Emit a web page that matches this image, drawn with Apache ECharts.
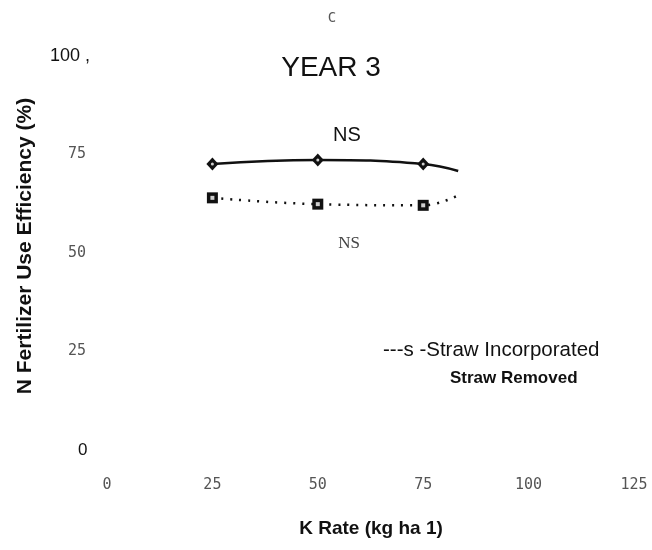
<!DOCTYPE html>
<html>
<head>
<meta charset="utf-8">
<script src="https://cdn.jsdelivr.net/npm/echarts@6/dist/echarts.min.js"></script>
<style>
html,body{margin:0;padding:0;background:#fff;}
#chart{width:652px;height:550px;}
</style>
</head>
<body>
<div id="chart"></div>
<script>
// ---- data ----
var kRates = [25, 50, 75];
var strawIncorporated = [72.6, 73.6, 72.6];
var strawRemoved = [64.0, 62.4, 62.1];
// fitted curves continue slightly past the last rate
var incorporatedCurveEnd = [83.3, 70.8];
var removedCurveEnd = [83, 64.5];
var xTicks = [0, 25, 50, 75, 100, 125];
var yTicks = [0, 25, 50, 75, 100];
var yTickText = ['0', '25', '50', '75', '100 ,'];

function buildSeries(xs, ys, end) {
  var d = xs.map(function (x, i) { return [x, ys[i]]; });
  d.push({ value: end, symbol: 'none' });
  return d;
}
function points(xs, ys) { return xs.map(function (x, i) { return [x, ys[i]]; }); }

var yStyleFor = { '0': 'zero', '25': 'mono', '50': 'mono', '75': 'mono', '100': 'big' };

var chart = echarts.init(document.getElementById('chart'));
chart.setOption({
  backgroundColor: '#fff',
  animation: false,
  grid: { left: 107, right: 18, top: 56, bottom: 100, containLabel: false },
  xAxis: {
    type: 'value', min: 0, max: 125, interval: 25,
    axisLine: { show: false }, axisTick: { show: false }, splitLine: { show: false },
    axisLabel: {
      margin: 28, color: '#555', fontFamily: 'DejaVu Sans Mono', fontSize: 15,
      formatter: function (v) { return xTicks.indexOf(v) >= 0 ? String(v) : ''; }
    }
  },
  yAxis: {
    type: 'value', min: 0, max: 100, interval: 25,
    axisLine: { show: false }, axisTick: { show: false }, splitLine: { show: false },
    axisLabel: {
      align: 'left', margin: 57,
      formatter: function (v) {
        var i = yTicks.indexOf(v);
        if (i < 0) return '';
        return '{' + yStyleFor[String(v)] + '|' + yTickText[i] + '}';
      },
      rich: {
        big: { fontFamily: 'Liberation Sans', fontSize: 18, color: '#111' },
        mono: { fontFamily: 'DejaVu Sans Mono', fontSize: 15, color: '#555', padding: [0, 0, 0, 18] },
        zero: { fontFamily: 'Liberation Sans', fontSize: 17, color: '#111', padding: [0, 0, 0, 28] }
      }
    }
  },
  series: [
    {
      type: 'line', smooth: 0.45, z: 2,
      data: buildSeries(kRates, strawIncorporated, incorporatedCurveEnd),
      symbol: 'diamond', symbolSize: [12, 13],
      lineStyle: { color: '#111', width: 2.5 },
      itemStyle: { color: '#111', borderColor: '#111', borderWidth: 0 }
    },
    {
      type: 'line', smooth: 0.45, z: 2,
      data: buildSeries(kRates, strawRemoved, removedCurveEnd),
      symbol: 'rect', symbolSize: 11,
      lineStyle: { color: '#111', width: 2.5, type: [2, 7] },
      itemStyle: { color: '#111', borderWidth: 0 }
    },
    {
      type: 'scatter', z: 3, silent: true,
      data: points(kRates, strawIncorporated),
      symbol: 'circle', symbolSize: 3,
      itemStyle: { color: '#fff' }
    },
    {
      type: 'scatter', z: 3, silent: true,
      data: points(kRates, strawRemoved),
      symbol: 'rect', symbolSize: 4,
      itemStyle: { color: '#fff' }
    }
  ],
  graphic: [
    { type: 'text', x: 332, y: 18, style: { text: 'C', fontFamily: 'DejaVu Sans Mono', fontSize: 14, fill: '#555', align: 'center', verticalAlign: 'middle' } },
    { type: 'text', x: 331, y: 68, style: { text: 'YEAR 3', fontFamily: 'Liberation Sans', fontSize: 28, fill: '#111', align: 'center', verticalAlign: 'middle' } },
    { type: 'text', x: 347, y: 135, style: { text: 'NS', fontFamily: 'Liberation Sans', fontSize: 20, fill: '#111', align: 'center', verticalAlign: 'middle' } },
    { type: 'text', x: 349, y: 244, style: { text: 'NS', fontFamily: 'Liberation Serif', fontSize: 17, fill: '#444', align: 'center', verticalAlign: 'middle' } },
    { type: 'text', x: 383, y: 350, style: { text: '---s -Straw Incorporated', fontFamily: 'Liberation Sans', fontSize: 20.5, fill: '#111', align: 'left', verticalAlign: 'middle' } },
    { type: 'text', x: 450, y: 378, style: { text: 'Straw Removed', fontFamily: 'Liberation Sans', fontSize: 17, fontWeight: 'bold', fill: '#111', align: 'left', verticalAlign: 'middle' } },
    { type: 'text', x: 371, y: 529, style: { text: 'K Rate (kg ha 1)', fontFamily: 'Liberation Sans', fontSize: 19, fontWeight: 'bold', fill: '#111', align: 'center', verticalAlign: 'middle' } },
    { type: 'text', x: 25, y: 246, rotation: Math.PI / 2, style: { text: 'N Fertilizer Use Efficiency (%)', fontFamily: 'Liberation Sans', fontSize: 21, fontWeight: 'bold', fill: '#111', align: 'center', verticalAlign: 'middle' } }
  ]
});
</script>
</body>
</html>
